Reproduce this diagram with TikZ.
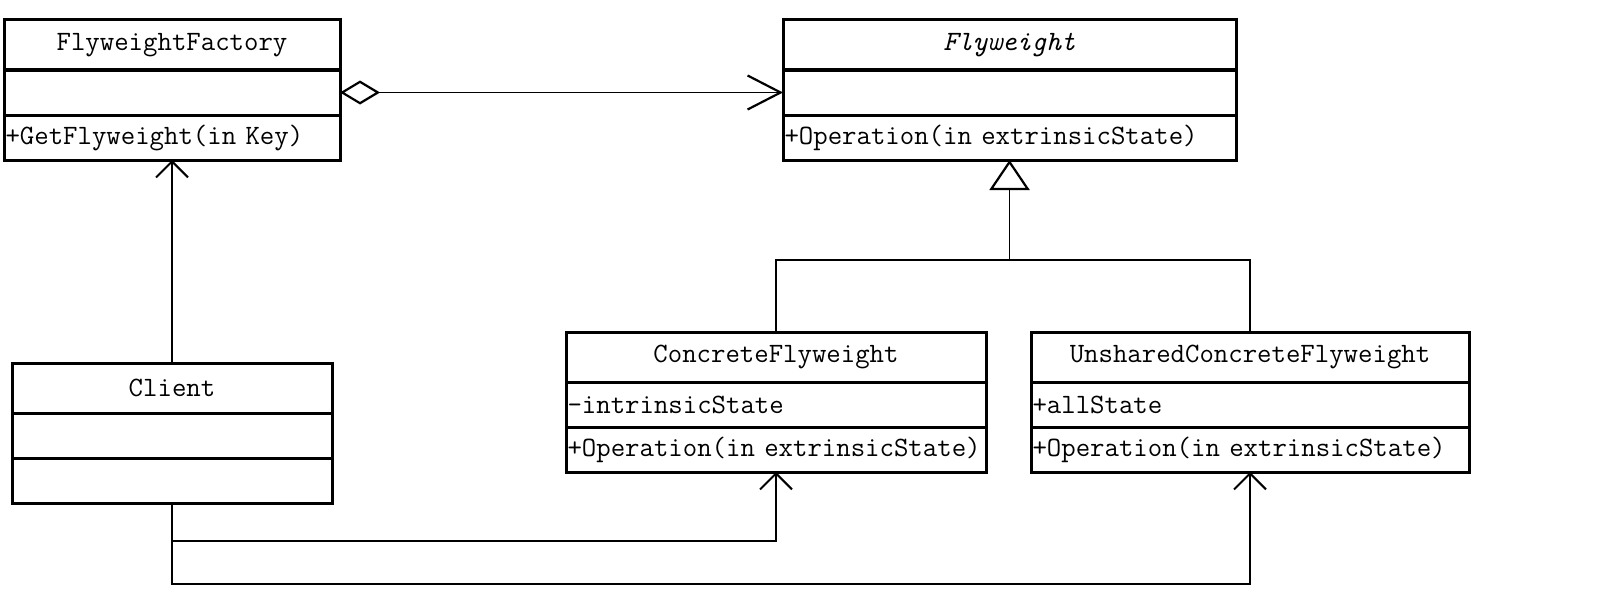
\documentclass[tikz,border=0pt]{standalone}
\usetikzlibrary{arrows.meta,calc}

\begin{document}
\begin{tikzpicture}
[x=1pt,y=-1pt,
  boxdecorate/.style={shape=rectangle,draw,line width=3pt,inner sep=0pt,outer sep=0pt,%
    font=\ttfamily\fontsize{28}{33}\selectfont},%
  titledecorate/.style={boxdecorate,minimum height=50pt,anchor=north west,align=center},%
  partdecorate/.style={boxdecorate,minimum height=45pt,anchor=north,align=left,inner xsep=1.5pt},%
  linedecorate/.style={line width=1.5pt},%
  aggdecorate/.style={linedecorate,{Diamond[open,length=40pt,width=24pt,line width=2.2pt]}-{Straight Barb[length=33pt,width=34pt,line width=2.2pt]}},%
  gendecorate/.style={linedecorate,-{Triangle[open,length=30pt,width=40pt,line width=2.2pt]}},%
  depdecorate/.style={linedecorate,-{Straight Barb[length=16pt,width=32pt,line width=2pt]}}]
\useasboundingbox (0,0) rectangle (1600,610);
%% classes
\foreach \cname/\x/\y/\w/\ctitle/\cattr/\cop in {%
  fact/4/20/336/FlyweightFactory//+GetFlyweight(in Key),
  fly/783/20/453/\textit{Flyweight}//+Operation(in extrinsicState),
  cli/12/363/320/Client//,
  conc/566/332/420/ConcreteFlyweight/-intrinsicState/+Operation(in extrinsicState),
  uns/1031/332/438/UnsharedConcreteFlyweight/+allState/+Operation(in extrinsicState)}
{
  \pgfmathsetmacro\tw{\w-3}
  \node (\cname) at (\x,\y) [titledecorate,minimum width=\w] {\ctitle};
  \node (\cname-a) at (\cname.south) [partdecorate,text width=\tw pt] {\cattr};
  \node (\cname-o) at (\cname-a.south) [partdecorate,text width=\tw pt] {\cop};
}
%% relations
\coordinate (fork) at ($(fly-o.south)+(0,100)$);
\draw[gendecorate] (fork) -- (fly-o.south);
\draw[linedecorate] (conc.north) |- (fork) -| (uns.north);
\draw[aggdecorate] (fact-a.east) -- (fly-a.west);
\draw[depdecorate] (cli.north) -- (fact-o.south);
\draw[depdecorate] (cli-o.south) -- ++(0,38) -| (conc-o.south);
\draw[depdecorate] (cli-o.south) -- ++(0,81) -| (uns-o.south);
\end{tikzpicture}
\end{document}
